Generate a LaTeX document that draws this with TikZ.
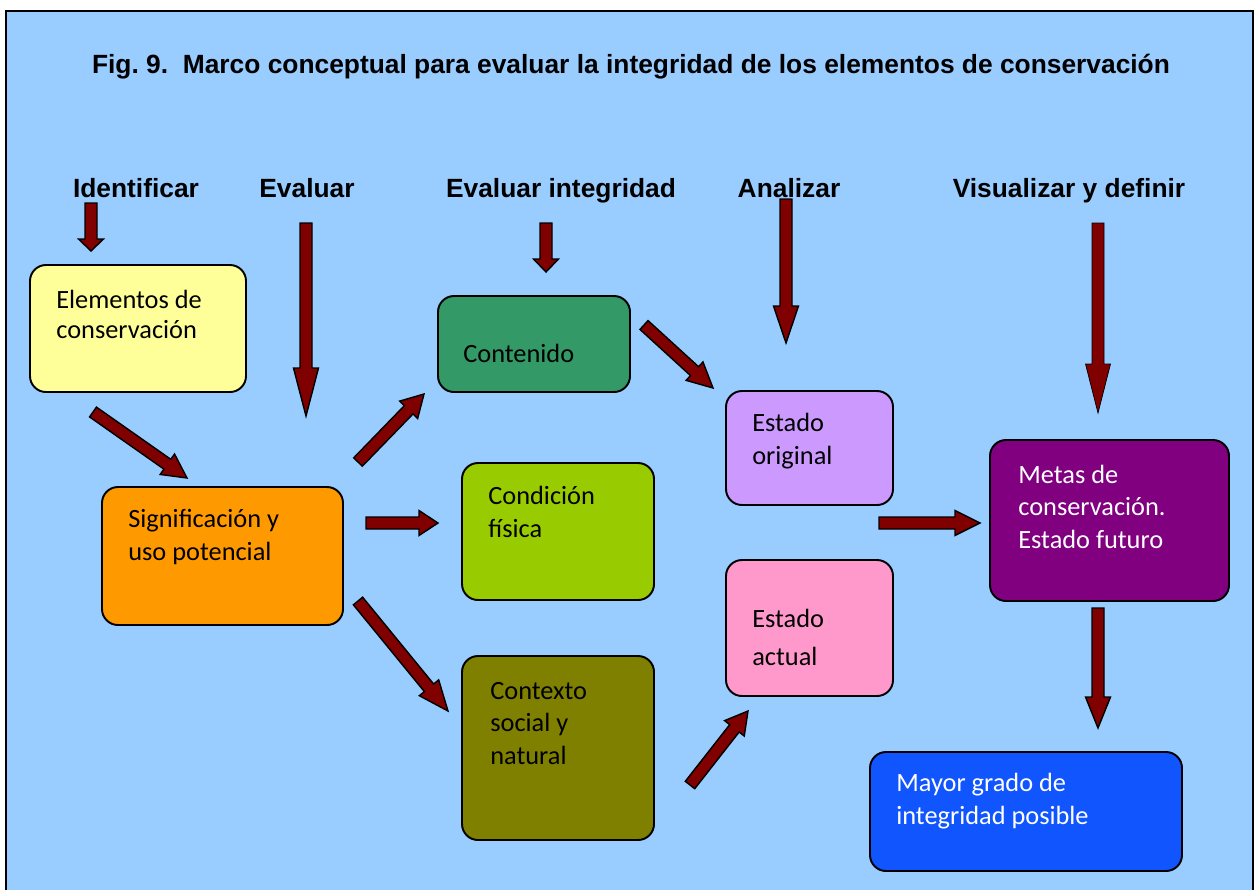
\documentclass[tikz,border=0pt]{standalone}
\usepackage{fontspec}
\setmainfont{Carlito}
\newfontfamily\headfont{Liberation Sans}
\usetikzlibrary{calc}

\definecolor{skyblue}{HTML}{99CCFF}
\definecolor{arrowred}{HTML}{800000}
\definecolor{elemyellow}{HTML}{FFFF99}
\definecolor{signorange}{HTML}{FF9900}
\definecolor{contgreen}{HTML}{339966}
\definecolor{condgreen}{HTML}{99CC00}
\definecolor{ctxolive}{HTML}{808000}
\definecolor{origlilac}{HTML}{CC99FF}
\definecolor{actpink}{HTML}{FF99CC}
\definecolor{metapurple}{HTML}{800080}
\definecolor{mayorblue}{HTML}{1155FF}

% one pixel of the reference
\newcommand{\upx}{0.02cm}
% block arrow: [style]{head length}{from}{to}
\newcommand{\blockarrow}[4][barrow]{%
  \coordinate (neck) at ($(#4)!#2*\upx!(#3)$);
  \draw[#1] ($(#3)!6*\upx!90:(#4)$) -- ($(neck)!6*\upx!-90:(#3)$)
    -- ($(neck)!12.5*\upx!-90:(#3)$) -- (#4) -- ($(neck)!12.5*\upx!90:(#3)$)
    -- ($(neck)!6*\upx!90:(#3)$) -- ($(#3)!6*\upx!-90:(#4)$) -- cycle;
}

\begin{document}
\begin{tikzpicture}[x=0.02cm,y=-0.02cm]
\tikzset{box/.style = {rectangle,draw=black,line width=1.1pt,rounded corners=0.32cm,inner sep=0pt}}
\tikzset{boxtext/.style = {align=left,inner sep=0pt,anchor=base west,font=\fontsize{15}{18.5}\selectfont}}
\tikzset{head/.style = {inner sep=0pt,anchor=base,font=\headfont\bfseries\fontsize{15}{18}\selectfont}}
\tikzset{barrow/.style = {fill=arrowred,draw=black,line width=0.8pt,line join=miter}}

\useasboundingbox (0,0) rectangle (1254,890);
\fill[skyblue] (6,11) rectangle (1253,890);
\draw[line width=1.1pt] (6,890) -- (6,11) -- (1253,11) -- (1253,890);

% title and column heads
\node[head] (title) at (631,73) {Fig.~9.\ \ Marco conceptual para evaluar la integridad de los elementos de conservación};
\node[head] (hid) at (136,197) {Identificar};
\node[head] (hev) at (307,197) {Evaluar};
\node[head] (hei) at (561,197) {Evaluar integridad};
\node[head] (han) at (789,197) {Analizar};
\node[head] (hvi) at (1069,197) {Visualizar y definir};

% boxes
\node[box,fill=elemyellow,minimum width=216*\upx,minimum height=127*\upx] (elem) at (138,328.5) {};
\node[box,fill=signorange,minimum width=241*\upx,minimum height=138*\upx] (sign) at (222.5,556) {};
\node[box,fill=contgreen,minimum width=192*\upx,minimum height=96*\upx] (cont) at (534,344) {};
\node[box,fill=condgreen,minimum width=192*\upx,minimum height=137*\upx] (cond) at (558,531.5) {};
\node[box,fill=ctxolive,minimum width=192*\upx,minimum height=184*\upx] (ctx) at (558,748) {};
\node[box,fill=origlilac,minimum width=167*\upx,minimum height=114*\upx] (orig) at (809.5,448) {};
\node[box,fill=actpink,minimum width=167*\upx,minimum height=136*\upx] (act) at (809.5,628) {};
\node[box,fill=metapurple,minimum width=239*\upx,minimum height=161*\upx] (meta) at (1109.5,520.5) {};
\node[box,fill=mayorblue,minimum width=312*\upx,minimum height=119*\upx] (mayor) at (1026,811.5) {};

% box texts (placed at the baseline of their last line)
\node[boxtext,font=\fontsize{15}{17}\selectfont] (elemtxt) at (56,338) {Elementos de\\conservación};
\node[boxtext] (signtxt) at (128,560) {Significación y\\uso potencial};
\node[boxtext] (conttxt) at (463,362) {Contenido};
\node[boxtext] (condtxt) at (488,537) {Condición\\física};
\node[boxtext] (ctxtxt) at (490,764) {Contexto\\social y\\natural};
\node[boxtext] (origtxt) at (752,464) {Estado\\original};
\node[boxtext] (acttxt) at (752,665) {Estado\\[3pt]actual};
\node[boxtext,text=white] (metatxt) at (1018,548) {Metas de\\conservación.\\Estado futuro};
\node[boxtext,text=white] (mayortxt) at (896,824) {Mayor grado de\\integridad posible};

% arrow ends
\coordinate (ida) at (91,203);   \coordinate (idb) at (91,251);
\coordinate (eva) at (306,223);  \coordinate (evb) at (306,416);
\coordinate (eia) at (546,223);  \coordinate (eib) at (546,272);
\coordinate (ana) at (786,199);  \coordinate (anb) at (786,343);
\coordinate (via) at (1098,223); \coordinate (vib) at (1098,413);
\coordinate (mma) at (1098,608); \coordinate (mmb) at (1098,728);
\coordinate (esa) at (93,412);   \coordinate (esb) at (187,478);
\coordinate (sca) at (358,462);  \coordinate (scb) at (424,394);
\coordinate (sda) at (366,523);  \coordinate (sdb) at (438,523);
\coordinate (sxa) at (358,601);  \coordinate (sxb) at (448,711);
\coordinate (coa) at (644,325);  \coordinate (cob) at (713,388);
\coordinate (xaa) at (690,785);  \coordinate (xab) at (748,711);
\coordinate (oma) at (879,523);  \coordinate (omb) at (980,523);

\blockarrow{12}{ida}{idb}
\blockarrow{48}{eva}{evb}
\blockarrow{13}{eia}{eib}
\blockarrow{37}{ana}{anb}
\blockarrow[fill=arrowred]{49}{via}{vib}
\blockarrow{31}{mma}{mmb}
\blockarrow{24}{esa}{esb}
\blockarrow{22}{sca}{scb}
\blockarrow{19}{sda}{sdb}
\blockarrow{30}{sxa}{sxb}
\blockarrow{25}{coa}{cob}
\blockarrow{22}{xaa}{xab}
\blockarrow{25}{oma}{omb}

\end{tikzpicture}
\end{document}
